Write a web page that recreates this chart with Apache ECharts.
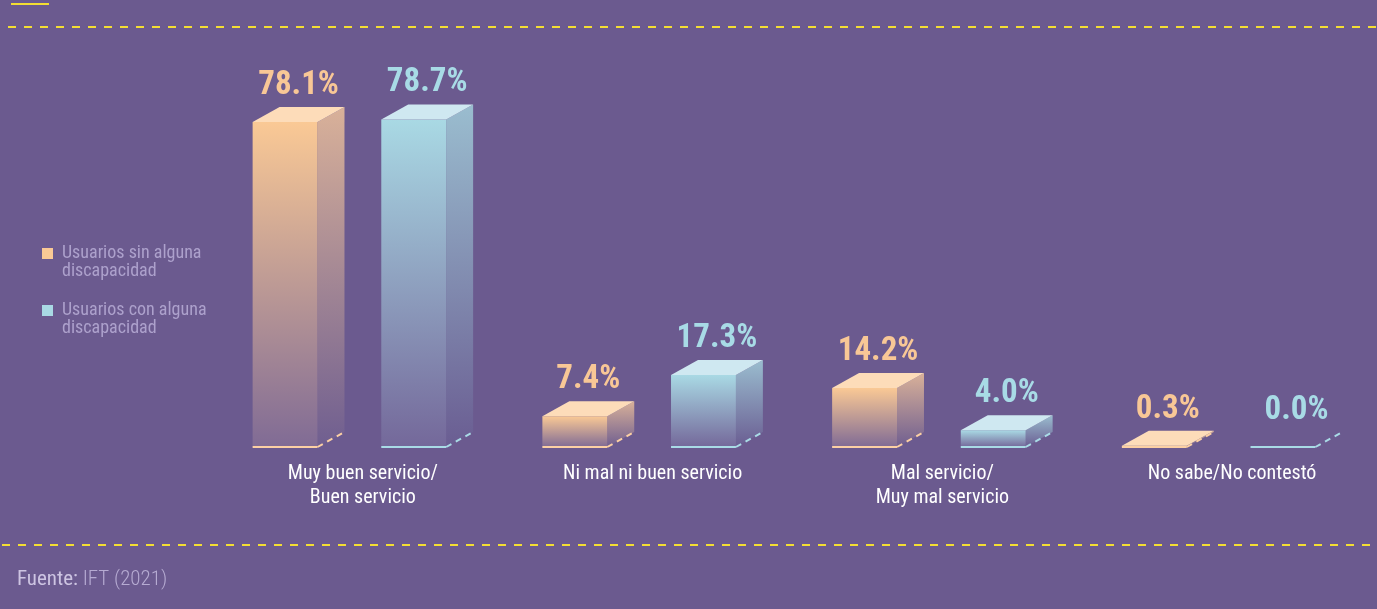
<!DOCTYPE html>
<html>
<head>
<meta charset="utf-8">
<script src="https://cdn.jsdelivr.net/npm/echarts@6/dist/echarts.min.js"></script>
<style>
html,body{margin:0;padding:0;background:#6b5a8f;}
#chart{width:1377px;height:609px;}
</style>
</head>
<body>
<div id="chart"></div>
<script>
// ---- data ----
const categories = ['Muy buen servicio/\nBuen servicio', 'Ni mal ni buen servicio', 'Mal servicio/\nMuy mal servicio', 'No sabe/No contestó'];
const seriesNames = ['Usuarios sin alguna\ndiscapacidad', 'Usuarios con alguna\ndiscapacidad'];
const sinDiscapacidad = [78.1, 7.4, 14.2, 0.3];
const conDiscapacidad = [78.7, 17.3, 4.0, 0.0];
const sourceLabel = 'Fuente:';
const sourceText = ' IFT (2021)';

// ---- styles ----
const BG = '#6b5a8f';
const FONT = 'Roboto';
const COND = 'condensed';
const palettes = [
  { front: '#fac995', frontEnd: '#806b95', top: '#fddcb9', side: '#d9b199', sideEnd: '#6f5e90', line: '#fcd0a4', label: '#f8c796' },
  { front: '#a9d9e4', frontEnd: '#74689a', top: '#cfe8f1', side: '#9abdcf', sideEnd: '#6a5d92', line: '#a9dbe6', label: '#a8dbe6' }
];

function makeRender(si) {
  const p = palettes[si];
  return function (params, api) {
    const ci = api.value(0), v = api.value(1);
    const top = api.coord([ci, v]);
    const base = api.coord([ci, 0]);
    const band = api.size([1, 0])[0];
    const w = band * 0.224, dx = band * 0.093, dy = 15;
    const gap = band * 0.22;
    const groupW = w * 2 + dx + gap;
    const x0 = top[0] - groupW / 2 + (si === 0 ? 0 : w + gap);
    const yt = top[1], yb = base[1];
    const h = Math.max(yb - yt, 0);
    const children = [];
    if (h > 0) {
      children.push({
        type: 'polygon',
        shape: { points: [[x0 + w, yt], [x0 + w + dx, yt - dy], [x0 + w + dx, yb - dy], [x0 + w, yb]] },
        style: { fill: new echarts.graphic.LinearGradient(0, 0, 0, 1, [{ offset: 0, color: p.side }, { offset: 1, color: p.sideEnd }]) }
      });
      children.push({
        type: 'rect',
        shape: { x: x0, y: yt, width: w, height: h },
        style: { fill: new echarts.graphic.LinearGradient(0, 0, 0, 1, [{ offset: 0, color: p.front }, { offset: 1, color: p.frontEnd }]) }
      });
      children.push({
        type: 'polygon',
        shape: { points: [[x0, yt], [x0 + dx, yt - dy], [x0 + w + dx, yt - dy], [x0 + w, yt]] },
        style: { fill: p.top }
      });
    }
    children.push({
      type: 'line',
      shape: { x1: x0, y1: yb, x2: x0 + w, y2: yb },
      style: { stroke: p.line, lineWidth: 2 }
    });
    children.push({
      type: 'line',
      shape: { x1: x0 + w, y1: yb, x2: x0 + w + dx, y2: yb - dy },
      style: { stroke: p.line, lineWidth: 2, lineDash: [6, 5] }
    });
    children.push({
      type: 'text',
      style: {
        text: v.toFixed(1) + '%',
        x: x0 + (w + dx) / 2,
        y: yt - dy - 5,
        align: 'center',
        verticalAlign: 'bottom',
        fill: p.label,
        font: COND + ' bold 33px ' + FONT
      }
    });
    return { type: 'group', children: children };
  };
}

const chart = echarts.init(document.getElementById('chart'), null, { renderer: 'canvas' });
const option = {
  backgroundColor: BG,
  animation: false,
  grid: { left: 218, right: -1, top: 31, bottom: 162 },
  xAxis: {
    type: 'category',
    data: categories,
    axisLine: { show: false },
    axisTick: { show: false },
    axisLabel: { color: '#ffffff', fontFamily: FONT, fontStyle: COND, fontSize: 20, lineHeight: 24, margin: 15, interval: 0 }
  },
  yAxis: { type: 'value', min: 0, max: 100, show: false },
  legend: {
    orient: 'vertical',
    left: 42,
    top: 227,
    padding: 0,
    itemWidth: 15,
    itemHeight: 11,
    itemGap: 4,
    icon: 'path://M0,0H11V11H0Z M15,0L15,11',
    data: seriesNames,
    formatter: function (name) { return '\n' + name; },
    textStyle: { color: '#ada1cc', fontFamily: FONT, fontStyle: COND, fontSize: 18, lineHeight: 17.5 }
  },
  series: [
    { type: 'custom', name: seriesNames[0], renderItem: makeRender(0), itemStyle: { color: palettes[0].front },
      data: sinDiscapacidad.map((v, i) => [i, v]), encode: { x: 0, y: 1 } },
    { type: 'custom', name: seriesNames[1], renderItem: makeRender(1), itemStyle: { color: palettes[1].front },
      data: conDiscapacidad.map((v, i) => [i, v]), encode: { x: 0, y: 1 } }
  ],
  graphic: [
    { type: 'line', shape: { x1: 8, y1: 27, x2: 1377, y2: 27 }, style: { stroke: '#f3de33', lineWidth: 2, lineDash: [8, 8] } },
    { type: 'line', shape: { x1: 2, y1: 545, x2: 1377, y2: 545 }, style: { stroke: '#f3de33', lineWidth: 2, lineDash: [8, 8] } },
    { type: 'rect', shape: { x: 11, y: 3, width: 38, height: 2 }, style: { fill: '#f3de33' } },
    {
      type: 'text', left: 17, top: 569,
      style: {
        text: '{a|' + sourceLabel + '}{b|' + sourceText + '}',
        rich: {
          a: { fill: '#cdc4e2', font: COND + ' normal 21px ' + FONT },
          b: { fill: '#b6abd2', font: COND + ' 300 21px ' + FONT }
        }
      }
    }
  ]
};
chart.setOption(option);
</script>
</body>
</html>
